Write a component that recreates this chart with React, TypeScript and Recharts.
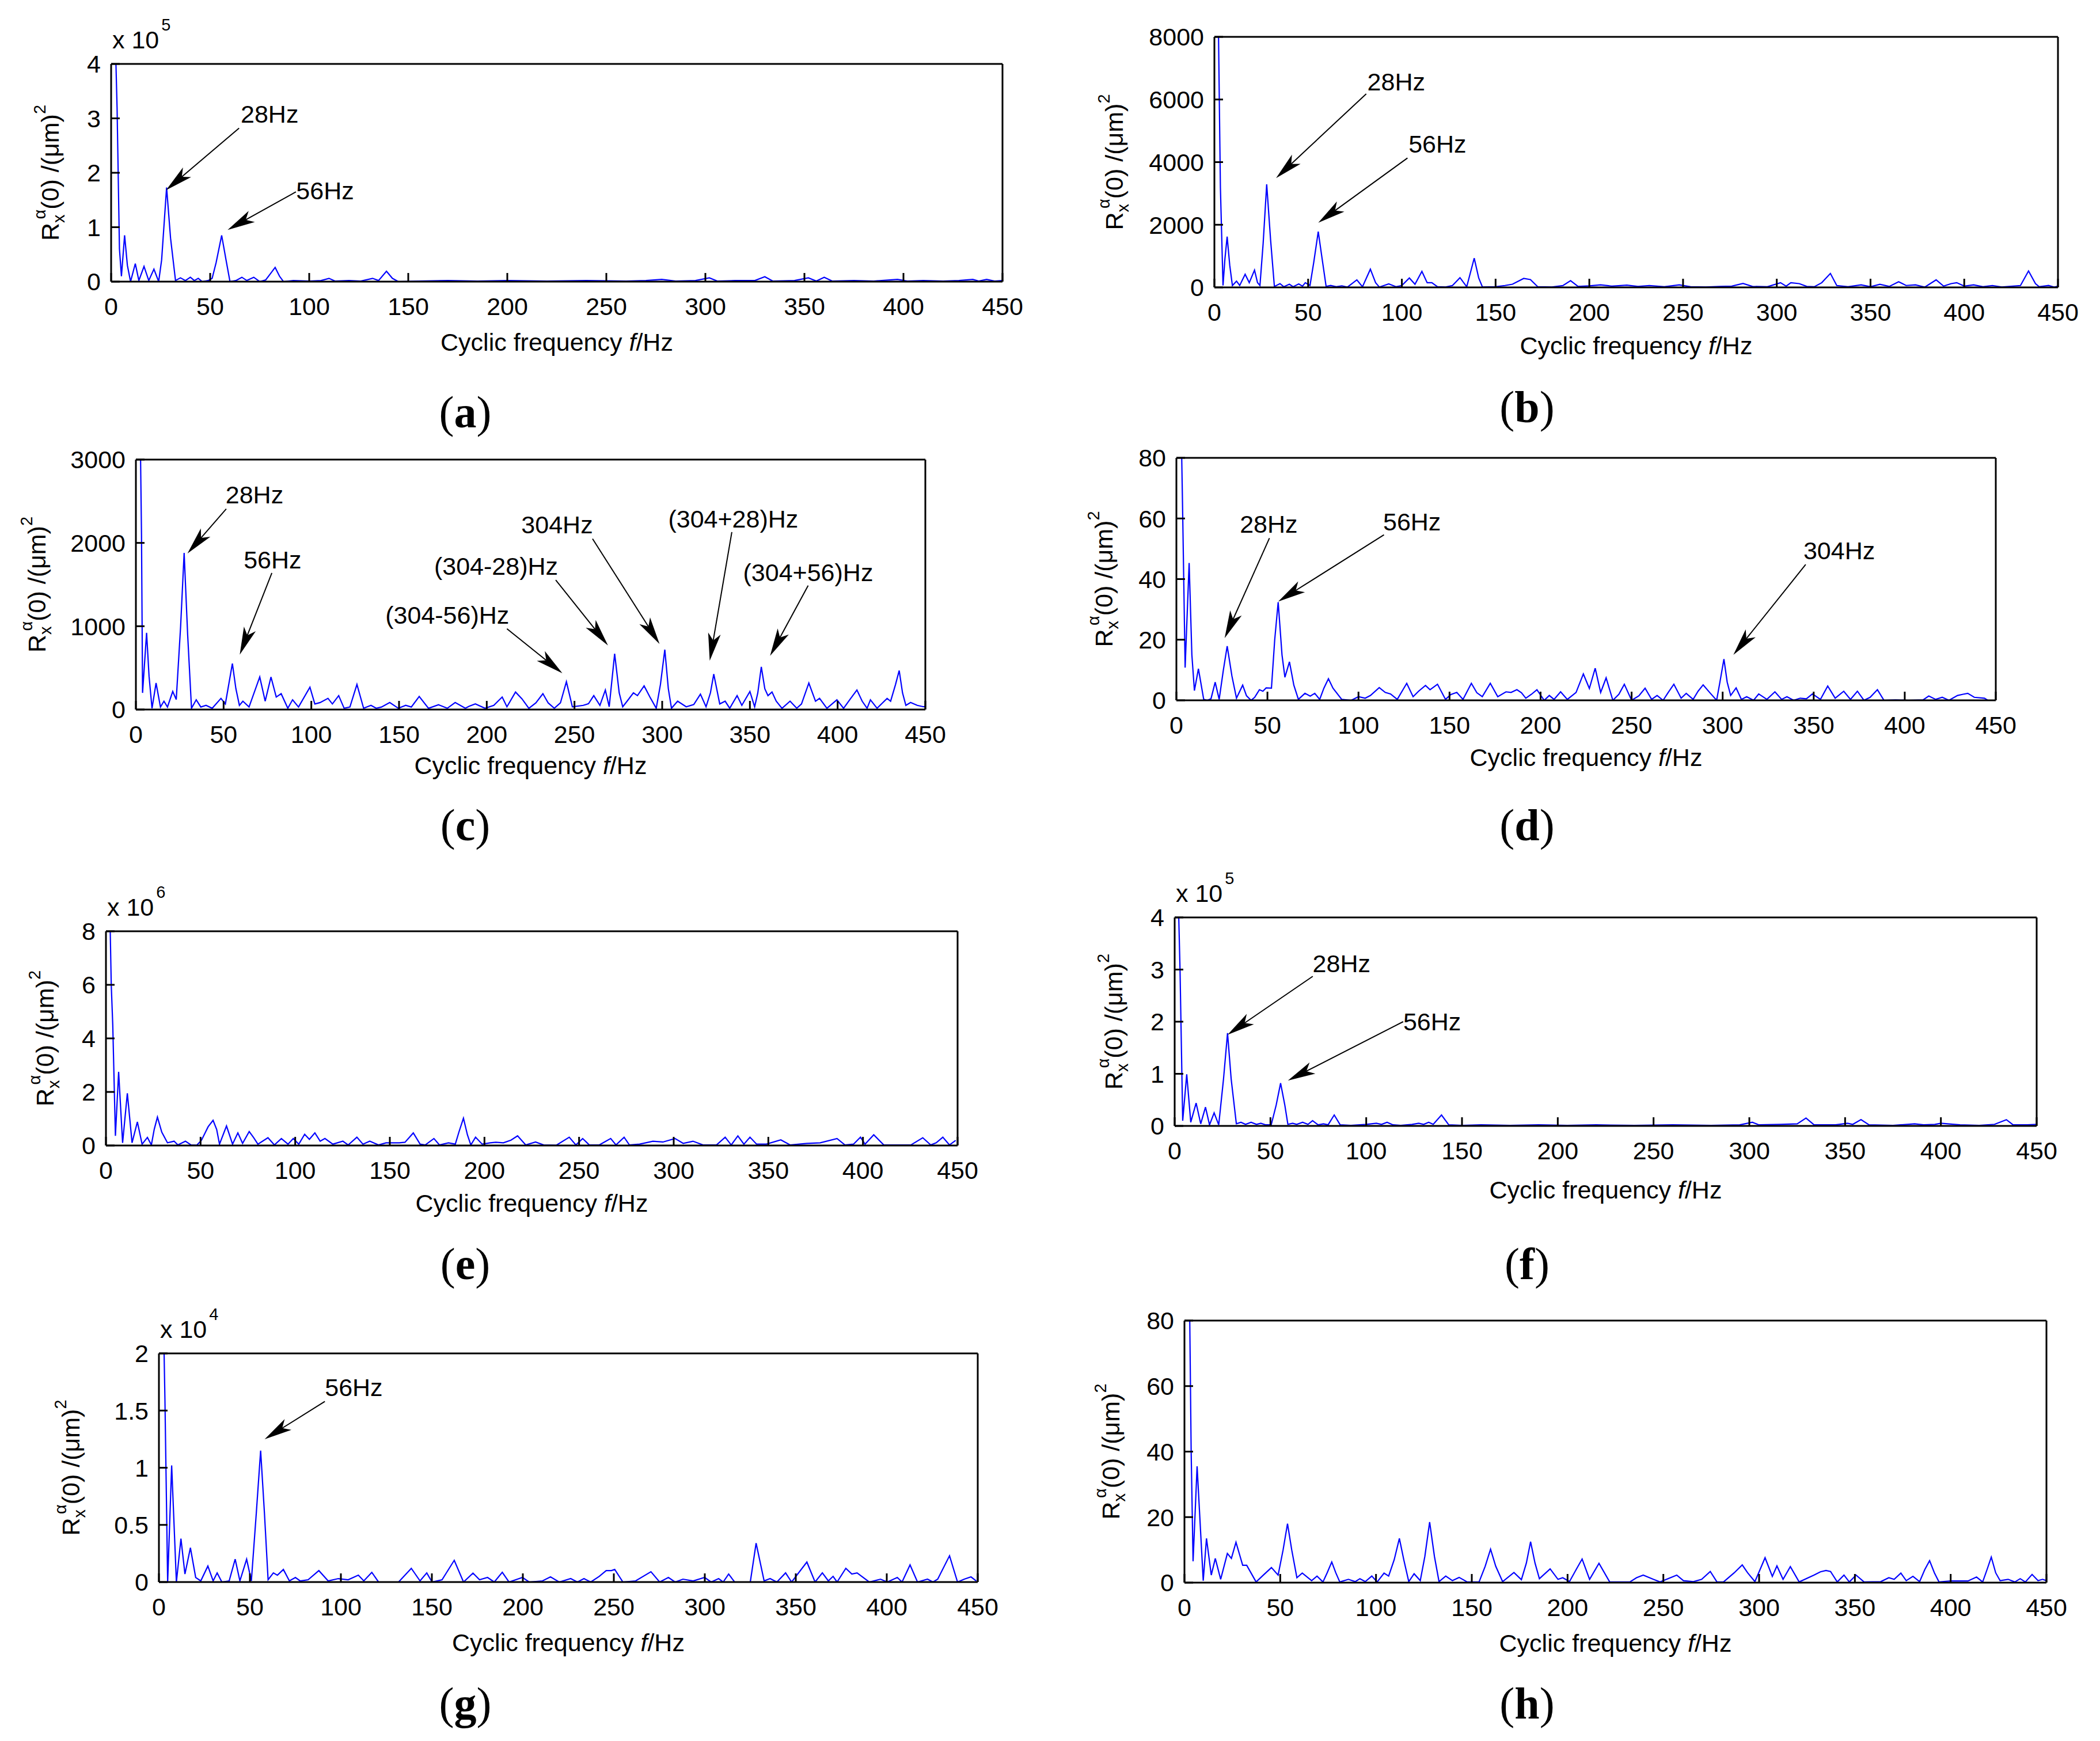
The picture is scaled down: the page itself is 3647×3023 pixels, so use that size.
import React from 'react';
import { LineChart, Line, XAxis, YAxis, ReferenceLine, ReferenceDot } from 'recharts';

type Pt = [number, number];
type Note = { text: string; tx: number; ty: number; x1: number; y1: number; x2: number; y2: number };

const FONT = '"Liberation Sans", Arial, Helvetica, sans-serif';

// cyclic frequency ticks, shared by every panel
const freqTicks = [0, 50, 100, 150, 200, 250, 300, 350, 400, 450];

// y ticks (in the units shown on each axis, multipliers drawn separately)
const yTicksA = [0, 1, 2, 3, 4];
const yTicksB = [0, 2000, 4000, 6000, 8000];
const yTicksC = [0, 1000, 2000, 3000];
const yTicksD = [0, 20, 40, 60, 80];
const yTicksE = [0, 2, 4, 6, 8];
const yTicksF = [0, 1, 2, 3, 4];
const yTicksG = [0, 0.5, 1, 1.5, 2];
const yTicksH = [0, 20, 40, 60, 80];

// spectra: [frequency Hz, value]
const specA: Pt[] = [
  [2, 4.6], [3, 3.2], [4.2, 0.6], [5.2, 0.1], [6.8, 0.85], [8.2, 0.3], [9.8, 0], [12.2, 0.33], [14, 0.02],
  [16.6, 0.28], [19, 0.02], [21.6, 0.23], [24, 0], [25.5, 0.4], [28, 1.73], [30, 0.8], [32.5, 0.02], [35, 0.07],
  [37.5, 0.02], [40, 0.08], [42, 0.02], [44, 0.06], [46, 0], [49, 0.02], [51, 0.06], [53, 0.35], [55.8, 0.85],
  [58, 0.4], [60, 0], [63, 0.02], [66, 0.08], [68.5, 0.02], [72, 0.08], [75, 0], [78, 0.03], [80.5, 0.15],
  [82.8, 0.26], [85, 0.1], [87, 0], [92, 0.02], [100, 0.01], [106, 0.02], [110, 0.06], [113, 0.01], [120, 0.02],
  [126, 0.01], [132, 0.06], [135, 0.02], [139, 0.19], [142, 0.06], [145, 0], [155, 0.01], [170, 0.02], [185, 0.01],
  [200, 0.02], [220, 0.01], [240, 0.02], [260, 0.01], [270, 0.02], [278, 0.04], [285, 0.01], [295, 0.02],
  [302, 0.07], [306, 0.01], [315, 0.02], [325, 0.02], [330, 0.09], [334, 0.01], [345, 0.02], [352, 0.07],
  [356, 0.01], [360, 0.08], [364, 0.01], [375, 0.02], [385, 0.01], [397, 0.04], [402, 0.01], [410, 0.02],
  [420, 0.01], [428, 0.02], [435, 0.04], [438, 0.01], [442, 0.04], [446, 0.01], [450, 0.02],
];

const specB: Pt[] = [
  [2, 9000], [3.2, 3200], [4.6, 60], [5.6, 900], [6.8, 1620], [8.2, 700], [9.6, 60], [11.8, 200], [13.5, 60],
  [16.4, 420], [18.6, 150], [21.4, 550], [23, 150], [24.3, 60], [26, 1400], [27.9, 3290], [30, 1500], [32, 30],
  [35, 120], [37, 20], [40, 100], [42, 20], [45, 110], [47, 40], [48.5, 150], [51, 60], [53, 800], [55.4, 1780],
  [57.5, 900], [59.6, 30], [62, 60], [65, 20], [68, 50], [71, 10], [76, 240], [79, 20], [83.2, 580], [86, 150],
  [88, 10], [93, 110], [97, 20], [100, 60], [104, 300], [107, 100], [110.7, 510], [113.5, 150], [116, 150],
  [119, 20], [123, 10], [127, 60], [131, 310], [134.6, 20], [138.6, 935], [141, 300], [143, 10], [150, 20],
  [155, 60], [159, 100], [165, 285], [168.6, 250], [172.5, 20], [180, 10], [186, 60], [190, 215], [194, 30],
  [200, 50], [206, 80], [212, 40], [220, 70], [226, 30], [232, 60], [240, 20], [248, 80], [254, 20], [262, 10],
  [270, 30], [276, 40], [282, 125], [287, 30], [295, 20], [302, 150], [305, 40], [307.5, 150], [312, 120],
  [316, 30], [320, 20], [324, 150], [328.6, 445], [332, 60], [338, 20], [345, 80], [350, 20], [355, 100],
  [360, 30], [365, 180], [369, 60], [374, 80], [379, 10], [385, 240], [389, 40], [393, 120], [396, 150],
  [400, 40], [405, 80], [410, 20], [415, 60], [420, 10], [430, 60], [434.3, 525], [438, 120], [440, 20],
  [445, 60], [448, 10], [450, 40],
];

const specC: Pt[] = [
  [2.5, 3300], [3.2, 2100], [3.8, 200], [6.1, 920], [7.5, 400], [9.2, 15], [11.5, 318], [14, 30], [16, 100],
  [18, 30], [21, 217], [23, 120], [25.5, 1000], [27.5, 1880], [29.5, 900], [31.7, 15], [34.4, 117], [37, 30],
  [40, 50], [43.5, 15], [48.5, 134], [51, 67], [55, 552], [57, 250], [59, 50], [61, 100], [64.5, 30],
  [70.6, 391], [73.7, 100], [77, 391], [80, 150], [82.8, 190], [86.6, 15], [89.3, 117], [92.7, 30], [99.2, 268],
  [102, 67], [105, 84], [109.5, 134], [112, 67], [115.6, 167], [118.7, 15], [122, 30], [126, 301], [129.8, 15],
  [134, 50], [137, 15], [140, 30], [144.7, 84], [149.6, 15], [153.8, 50], [157, 30], [161.5, 157], [166.8, 15],
  [172.5, 57], [177.5, 15], [182, 84], [187.8, 15], [190, 40], [193.5, 67], [199, 15], [204, 50], [208.8, 150],
  [211.5, 33], [216.4, 210], [220, 130], [224, 15], [228, 80], [232, 190], [235, 80], [238.5, 15], [242, 80],
  [245.4, 334], [248.8, 33], [255, 50], [258, 70], [261, 167], [264.5, 50], [267.6, 234], [269.8, 33],
  [272.9, 669], [275.5, 200], [277.5, 33], [280, 100], [283.6, 200], [285.9, 167], [289.7, 284], [293, 150],
  [296.6, 15], [299, 300], [301.5, 719], [303.5, 250], [305.3, 15], [308.8, 100], [313.7, 33], [318, 60],
  [321.8, 184], [325, 33], [327.5, 200], [329.4, 425], [332.8, 67], [335.9, 100], [338.5, 15], [342.7, 167],
  [345.4, 50], [350, 217], [352.7, 33], [354.5, 200], [356.5, 512], [358.5, 250], [360.3, 167], [362.6, 210],
  [365, 100], [368.3, 15], [372.9, 100], [376.7, 15], [379.4, 67], [383.6, 318], [387.4, 100], [389.7, 134],
  [393.9, 15], [399.6, 117], [403.4, 15], [407, 120], [411, 234], [414, 100], [416.8, 15], [418.7, 117],
  [422.5, 15], [428.2, 134], [430.2, 100], [433, 300], [435.1, 468], [437, 200], [438.9, 50], [441.6, 84],
  [445.4, 50], [449, 33], [450, 40],
];

const specD: Pt[] = [
  [2.5, 95], [3.5, 60], [4.8, 10.8], [7, 45.3], [8.5, 15], [9.9, 3.2], [12.1, 10.4], [15, 0.3], [17, 0],
  [19, 0.5], [21.3, 6], [23.5, 0.3], [25.8, 10], [27.9, 17.9], [30.5, 8], [33, 0.7], [36.4, 5], [38.5, 1.5],
  [41, 0], [43, 1], [45.6, 3.5], [47.5, 3], [49.3, 4.1], [52.2, 4], [54, 20], [55.9, 32.4], [58, 15], [59.6, 7.6],
  [62.1, 12.7], [64.5, 5], [67, 0.3], [70.6, 2.3], [73.5, 1.4], [76, 2.3], [78.7, 0.3], [81, 4], [83.5, 7.1],
  [86, 4], [90.8, 0.3], [96, 0], [100, 1.2], [103.7, 0.7], [106.6, 1.6], [111.4, 4.2], [114.7, 2.6], [117.6, 2.1],
  [121.3, 0.3], [126.5, 5.6], [130, 1.2], [133, 3], [136.8, 4.9], [139.3, 3.5], [143.4, 5.3], [147.8, 0.3],
  [150.7, 1.9], [154, 2.6], [157.4, 0.3], [162, 5.6], [165, 2.5], [168, 1.2], [172.4, 5.6], [176.5, 1.2],
  [181, 2.8], [183.8, 2.6], [187, 3.5], [189.5, 2.5], [191.9, 0.7], [195, 2], [198, 3.5], [202, 0], [204.8, 1.6],
  [207.4, 0.3], [211, 2.8], [214.7, 0.3], [219.5, 2.6], [223.5, 8.7], [226.8, 3.9], [230, 10.6], [233, 2.6],
  [236, 7.4], [239.7, 0], [243, 2], [246, 5.3], [250, 0], [254, 1.5], [257.4, 4], [261, 0.3], [264, 1.6],
  [267.3, 0], [270, 2.5], [273.2, 5.3], [277.2, 0.7], [280, 2.3], [283.8, 0.3], [286.5, 3], [289.3, 5.1],
  [293, 2.5], [296.7, 0], [298.5, 6], [300.7, 13.6], [302.5, 6], [304.4, 1.6], [307.4, 4.1], [310.3, 0.3],
  [313.2, 1.2], [317, 0], [319.8, 2.1], [324.3, 0.3], [328.7, 2.8], [332.4, 0.3], [335.3, 1.2], [339, 0],
  [342.6, 0.7], [346, 0.5], [349.3, 2.1], [353.7, 0.3], [357.7, 4.7], [361.8, 0.7], [366.5, 3], [370.2, 0.3],
  [374, 3], [377.6, 0], [381, 1], [385, 3.5], [388.6, 0], [395, 0.1], [402, 0], [410, 0.1], [413.2, 1.4],
  [417, 0.3], [420.6, 1], [424.3, 0], [429, 1.6], [432, 2], [434.6, 2.3], [438.2, 1], [443.8, 0.7], [445.6, 0],
  [450, 0],
];

const specE: Pt[] = [
  [2, 9], [2.8, 6], [3.6, 4.5], [5, 0.36], [6.7, 2.75], [8.8, 0.1], [11.3, 1.95], [13.8, 0.1], [16.6, 0.88],
  [19.1, 0.05], [21.9, 0.3], [24, 0.02], [25.5, 0.6], [27.2, 1.06], [29.5, 0.5], [32.5, 0.1], [36, 0.16],
  [38, 0.02], [42, 0.16], [45, 0.02], [48, 0.01], [50.5, 0.2], [54, 0.7], [56.6, 0.94], [58.5, 0.6], [60, 0.05],
  [63.7, 0.73], [66.9, 0.05], [69.7, 0.47], [72.2, 0.08], [75.7, 0.52], [78, 0.3], [80.3, 0.05], [85.6, 0.29],
  [89, 0.02], [92.7, 0.26], [96.2, 0.05], [99, 0.26], [101.9, 0.05], [105, 0.42], [107.5, 0.23], [110.4, 0.47],
  [113.2, 0.16], [115.7, 0.26], [119.9, 0.05], [125.2, 0.16], [128, 0.02], [132.6, 0.31], [135.8, 0.05],
  [139.4, 0.16], [144, 0.02], [148, 0.1], [155, 0.1], [158, 0.12], [162.4, 0.47], [166, 0.05], [168.7, 0.02],
  [173.3, 0.26], [176.2, 0.02], [181, 0.1], [184.6, 0.05], [186.5, 0.5], [188.9, 1.02], [191, 0.4], [192.8, 0.02],
  [195.3, 0.31], [198.8, 0.05], [203, 0.1], [206, 0.12], [210, 0.1], [214, 0.2], [217.5, 0.36], [221.8, 0.02],
  [227, 0.13], [231.3, 0.02], [238, 0.01], [244.8, 0.31], [248.3, 0.02], [251.9, 0.26], [255.4, 0.02],
  [260.7, 0.02], [266.7, 0.26], [269.5, 0.02], [273.8, 0.31], [276.6, 0.02], [282, 0.05], [289, 0.16],
  [294.3, 0.13], [300.7, 0.26], [305, 0.08], [310.2, 0.16], [315.5, 0.02], [322.6, 0.02], [327.2, 0.31],
  [330.4, 0.02], [333.9, 0.36], [337.1, 0.05], [340.3, 0.31], [343.8, 0.05], [349, 0.05], [356.6, 0.21],
  [361.5, 0.02], [370.4, 0.08], [377.4, 0.1], [386.3, 0.26], [390.5, 0.02], [395, 0.05], [398.7, 0.31],
  [401.1, 0.05], [405.7, 0.4], [411, 0.02], [420, 0.02], [425.3, 0.02], [431.6, 0.29], [435.8, 0.02],
  [438.7, 0.1], [442.2, 0.31], [445.7, 0.02], [449, 0.19],
];

const specF: Pt[] = [
  [2, 4.2], [2.8, 3], [4.2, 0.1], [6.3, 0.99], [8.4, 0.07], [11.2, 0.44], [13.6, 0.04], [16.1, 0.36], [18.2, 0.02],
  [20.6, 0.25], [23, 0.02], [25.5, 0.9], [27.6, 1.78], [29.5, 0.9], [32.2, 0.04], [34.6, 0.07], [37, 0.03],
  [39.9, 0.07], [42.7, 0.03], [45, 0.05], [47.6, 0.02], [50.4, 0.02], [53, 0.4], [55.3, 0.82], [57.5, 0.4],
  [59.1, 0.03], [61.6, 0.05], [63.7, 0.03], [66.8, 0.07], [69.6, 0.03], [72, 0.1], [74.9, 0.02], [77.7, 0.04],
  [80.1, 0.02], [83.3, 0.21], [86.4, 0.02], [92, 0.01], [100, 0.03], [105.3, 0.05], [108, 0.03], [110.9, 0.07],
  [114, 0.02], [118, 0.01], [123.9, 0.03], [127.4, 0.05], [130, 0.03], [132.6, 0.07], [135, 0.03], [139.3, 0.21],
  [143.1, 0.02], [150, 0.01], [160, 0.02], [175, 0.01], [190, 0.02], [205, 0.01], [220, 0.02], [240, 0.01],
  [260, 0.02], [280, 0.01], [295, 0.02], [301.6, 0.07], [305, 0.02], [316, 0.03], [325, 0.04], [329.6, 0.15],
  [333.8, 0.02], [345, 0.02], [351.3, 0.05], [354, 0.03], [358.3, 0.12], [362.5, 0.02], [375, 0.01],
  [386.3, 0.04], [391, 0.02], [396.8, 0.03], [400, 0.05], [410, 0.02], [420, 0.01], [428, 0.03], [434.2, 0.12],
  [437.7, 0.02], [445, 0.02], [450, 0.03],
];

const specG: Pt[] = [
  [2.5, 2.3], [3.3, 1.6], [4.8, 0], [7, 1.02], [9.6, 0], [12.1, 0.38], [14.3, 0.07], [17.3, 0.3], [20.2, 0.04],
  [23, 0.01], [26.9, 0.14], [29.8, 0.01], [32, 0.08], [34.6, 0], [38.6, 0.01], [41.9, 0.2], [44.5, 0.01],
  [48.2, 0.2], [50.8, 0.01], [53.5, 0.6], [55.9, 1.15], [58, 0.6], [60, 0.02], [62.9, 0.08], [65.1, 0.06],
  [68.4, 0.11], [71.7, 0.01], [75, 0.04], [77.6, 0.01], [82, 0.02], [87.9, 0.1], [93, 0.01], [98.6, 0.03],
  [104, 0.02], [109.6, 0.06], [112.6, 0.01], [117, 0.085], [120.7, 0], [131.7, 0], [138.7, 0.12], [143.5, 0.01],
  [147.2, 0.08], [150.1, 0], [155.6, 0.02], [162.3, 0.19], [167.4, 0], [172.6, 0.078], [176.2, 0.02],
  [180.6, 0.04], [184.3, 0], [188.7, 0.085], [192.4, 0], [199.8, 0.04], [203.5, 0], [210.8, 0.01],
  [215.2, 0.045], [220, 0], [226.3, 0.03], [230, 0], [233.6, 0.03], [237.3, 0], [242, 0.05], [245.8, 0.1],
  [248.7, 0.1], [250.5, 0.11], [255, 0], [262, 0.01], [270.4, 0.09], [275.2, 0], [280, 0.04], [283.7, 0],
  [288, 0.025], [293.6, 0.01], [299.9, 0.04], [303.5, 0], [307.6, 0.03], [310.1, 0], [313.1, 0.07], [316.4, 0],
  [325, 0], [328.2, 0.34], [332.6, 0.01], [335.9, 0.03], [339.6, 0], [344.4, 0.08], [347.7, 0], [356.1, 0.175],
  [360.6, 0], [364.6, 0.08], [367.9, 0.01], [370.5, 0.05], [372.7, 0], [377.5, 0.12], [380.8, 0.07],
  [383.7, 0.08], [390.4, 0], [396.6, 0.025], [400.3, 0], [405.8, 0.04], [408.4, 0], [412.8, 0.15], [416.9, 0],
  [422.4, 0.025], [425.4, 0], [428, 0.025], [434.5, 0.23], [438.9, 0], [442.6, 0.025], [446.3, 0.045],
  [449.2, 0.01],
];

const specH: Pt[] = [
  [2.5, 95], [3.5, 40], [4.5, 6.5], [6.6, 35.5], [9.8, 0.6], [11.5, 13.5], [14, 2.3], [16.1, 7.4], [18.9, 1],
  [22.4, 8.9], [24.5, 7.4], [26.9, 12.3], [30.4, 5.3], [32.5, 5.3], [35, 2.7], [37.4, 0.2], [41.2, 2.3],
  [45.4, 4.6], [48.9, 2.3], [51.5, 10], [53.8, 18], [56, 10], [58.7, 1.5], [61.5, 2.9], [66.4, 0.6], [69.2, 2],
  [72.3, 0.2], [74.5, 3], [76.9, 6.3], [79, 3], [81.1, 0.2], [85.6, 1], [89.2, 0.3], [91.6, 1.2], [94.4, 0.3],
  [97.8, 2], [100.6, 0.2], [104.2, 2.9], [106.6, 2], [109.5, 7], [112.2, 13.5], [114.5, 7], [117.1, 0.3],
  [119.9, 2.7], [123.1, 0.6], [125.5, 8], [128, 18.5], [130.5, 8], [132.9, 0.3], [136.4, 2], [139.9, 0.6],
  [143.4, 1.6], [147.6, 0.2], [153.8, 0.2], [157, 5], [159.8, 10.2], [162.5, 5], [166.1, 0.3], [172, 3.1],
  [175.9, 0.9], [178.5, 6], [180.7, 12.5], [183, 6], [185.3, 1.2], [190.9, 4.2], [195, 1], [197.5, 1.5],
  [201, 0.3], [204.5, 4], [207.6, 7.2], [211.5, 1], [216.4, 5.9], [222, 0.2], [232.5, 0.2], [236, 1.5],
  [239.5, 2.3], [244.8, 1], [248.3, 0.2], [257, 2.3], [260.5, 0.6], [265.7, 0.3], [270, 1], [274.5, 3.4],
  [278, 0.2], [281.4, 0.2], [287, 3], [291.2, 5.4], [294, 3], [297.8, 0.3], [300.5, 4], [303.1, 7.6],
  [306.9, 1.9], [309.3, 5.1], [312.5, 1], [316.3, 4.9], [320.9, 0.2], [328.6, 2.3], [332, 3.3], [334.9, 3.7],
  [337.3, 3.4], [340.8, 0.2], [344.3, 2.3], [347.1, 0.2], [350.6, 2.3], [354.8, 0.2], [363.5, 0.3],
  [367.7, 1.5], [370.5, 1], [374, 2.9], [376.8, 0.6], [380.3, 1.9], [383.8, 0.3], [386.5, 4], [389, 6.7],
  [391.5, 3], [393.9, 0.2], [400, 0.5], [409, 0.5], [413.5, 1.7], [416.7, 0.2], [419, 4], [421.2, 7.8],
  [423.5, 3], [425.8, 0.6], [430, 1], [433.5, 0.2], [436.3, 1.2], [439, 0.2], [442.5, 2.5], [445.6, 0.6],
  [448, 1], [450, 0.6],
];

// arrow annotations: text centre (tx, ty), arrow from (x1, y1) to tip (x2, y2), all in data units
const notesA: Note[] = [
  { text: '28Hz', tx: 80, ty: 3.08, x1: 64.6, y1: 2.82, x2: 27.7, y2: 1.68 },
  { text: '56Hz', tx: 108, ty: 1.67, x1: 93.3, y1: 1.65, x2: 58.8, y2: 0.95 },
];
const notesB: Note[] = [
  { text: '28Hz', tx: 97, ty: 6560, x1: 81, y1: 6180, x2: 32.9, y2: 3490 },
  { text: '56Hz', tx: 119, ty: 4575, x1: 103, y1: 4130, x2: 55.4, y2: 2065 },
];
const notesC: Note[] = [
  { text: '28Hz', tx: 67.6, ty: 2575, x1: 51.5, y1: 2408, x2: 29.4, y2: 1873 },
  { text: '56Hz', tx: 77.9, ty: 1799, x1: 77.5, y1: 1639, x2: 59.2, y2: 659 },
  { text: '(304-56)Hz', tx: 177.5, ty: 1137, x1: 211.5, y1: 970, x2: 243.1, y2: 435 },
  { text: '(304-28)Hz', tx: 205.3, ty: 1722, x1: 239.3, y1: 1555, x2: 269.1, y2: 769 },
  { text: '304Hz', tx: 240.1, ty: 2217, x1: 260.3, y1: 2050, x2: 298.5, y2: 786 },
  { text: '(304+28)Hz', tx: 340.5, ty: 2291, x1: 339.7, y1: 2130, x2: 327.1, y2: 585 },
  { text: '(304+56)Hz', tx: 383.2, ty: 1645, x1: 383.2, y1: 1488, x2: 361.5, y2: 645 },
];
const notesD: Note[] = [
  { text: '28Hz', tx: 50.7, ty: 58.1, x1: 51.1, y1: 53.5, x2: 26.5, y2: 20.5 },
  { text: '56Hz', tx: 129.4, ty: 59, x1: 114, y1: 54.6, x2: 55.9, y2: 32.6 },
  { text: '304Hz', tx: 364, ty: 49.4, x1: 345.6, y1: 44.8, x2: 305.9, y2: 15 },
];
const notesF: Note[] = [
  { text: '28Hz', tx: 87.1, ty: 3.12, x1: 72.1, y1: 2.87, x2: 27.6, y2: 1.75 },
  { text: '56Hz', tx: 134.4, ty: 2.0, x1: 119.3, y1: 2.0, x2: 59.1, y2: 0.87 },
];
const notesG: Note[] = [
  { text: '56Hz', tx: 107.1, ty: 1.705, x1: 91.2, y1: 1.58, x2: 58.1, y2: 1.25 },
];

type PanelSpec = {
  data: Pt[];
  yTicks: number[];
  exp?: number;
  notes: Note[];
  left: number;
  top: number;
  right: number;
  bottom: number;
  titleOffset: number;
  xTitleGap: number;
};

const panels: PanelSpec[] = [
  { data: specA, yTicks: yTicksA, exp: 5, notes: notesA, left: 193, top: 111, right: 1741, bottom: 489, titleOffset: 106, xTitleGap: 105 },
  { data: specB, yTicks: yTicksB, notes: notesB, left: 2109, top: 64, right: 3574, bottom: 499, titleOffset: 174, xTitleGap: 101 },
  { data: specC, yTicks: yTicksC, notes: notesC, left: 236, top: 798, right: 1607, bottom: 1232, titleOffset: 172, xTitleGap: 97 },
  { data: specD, yTicks: yTicksD, notes: notesD, left: 2043, top: 795, right: 3466, bottom: 1216, titleOffset: 126, xTitleGap: 99 },
  { data: specE, yTicks: yTicksE, exp: 6, notes: [], left: 184, top: 1617, right: 1663, bottom: 1989, titleOffset: 106, xTitleGap: 100 },
  { data: specF, yTicks: yTicksF, exp: 5, notes: notesF, left: 2040, top: 1593, right: 3537, bottom: 1955, titleOffset: 106, xTitleGap: 111 },
  { data: specG, yTicks: yTicksG, exp: 4, notes: notesG, left: 276, top: 2350, right: 1698, bottom: 2747, titleOffset: 153, xTitleGap: 105 },
  { data: specH, yTicks: yTicksH, notes: [], left: 2057, top: 2293, right: 3554, bottom: 2748, titleOffset: 128, xTitleGap: 105 },
];

const captions = [
  { letter: 'a', x: 808, y: 716 }, { letter: 'b', x: 2652, y: 707 },
  { letter: 'c', x: 808, y: 1433 }, { letter: 'd', x: 2652, y: 1433 },
  { letter: 'e', x: 808, y: 2195 }, { letter: 'f', x: 2652, y: 2195 },
  { letter: 'g', x: 808, y: 2958 }, { letter: 'h', x: 2652, y: 2958 },
];

const Y_W = 230;
const TOP_M = 100;
const RIGHT_M = 50;
const X_H = 170;
const TICK = 15;
const FS = 43;
const SUB = 29;

const tickStyle = { fill: '#000', fontSize: FS, fontFamily: FONT };

function Arrow(props: any) {
  const { x1, y1, x2, y2 } = props;
  const dx = x2 - x1;
  const dy = y2 - y1;
  const len = Math.hypot(dx, dy) || 1;
  const ux = dx / len;
  const uy = dy / len;
  const nx = -uy;
  const ny = ux;
  const L = 48;
  const W = 11;
  const N = 36;
  const bx = x2 - ux * L;
  const by = y2 - uy * L;
  const mx = x2 - ux * N;
  const my = y2 - uy * N;
  const pts = [
    [x2, y2],
    [bx + nx * W, by + ny * W],
    [mx, my],
    [bx - nx * W, by - ny * W],
  ]
    .map((p) => p.join(','))
    .join(' ');
  return (
    <g>
      <line x1={x1} y1={y1} x2={mx} y2={my} stroke="#000" strokeWidth={2} />
      <polygon points={pts} fill="#000" />
    </g>
  );
}

function YTitle({ cx, cy }: { cx: number; cy: number }) {
  return (
    <text x={cx} y={cy + 15} transform={`rotate(-90 ${cx} ${cy})`} textAnchor="middle" fontFamily={FONT} fontSize={FS} fill="#000">
      R
      <tspan fontSize={SUB} dy={10}>x</tspan>
      <tspan fontSize={SUB} dx={-8} dy={-33}>α</tspan>
      <tspan dy={23}>(0) /(μm)</tspan>
      <tspan fontSize={SUB} dy={-23}>2</tspan>
    </text>
  );
}

function Panel({ p }: { p: PanelSpec }) {
  const plotW = p.right - p.left;
  const plotH = p.bottom - p.top;
  const plotTop = TOP_M + 1;
  const yMax = p.yTicks[p.yTicks.length - 1];
  const rows = p.data.map(([f, v]) => ({ f, v }));

  const yLabel = () => (
    <g>
      <YTitle cx={Y_W - p.titleOffset} cy={plotTop + plotH / 2} />
      {p.exp !== undefined && (
        <text x={Y_W + 2} y={plotTop - 27} fontFamily={FONT} fontSize={FS} fill="#000">
          x 10
          <tspan fontSize={SUB} dx={4} dy={-31}>{p.exp}</tspan>
        </text>
      )}
    </g>
  );

  const xLabel = () => (
    <text x={Y_W + plotW / 2} y={plotTop + plotH + p.xTitleGap + 15} textAnchor="middle" fontFamily={FONT} fontSize={FS} fill="#000">
      Cyclic frequency <tspan fontStyle="italic">f</tspan>/Hz
    </text>
  );

  return (
    <div style={{ position: 'absolute', left: p.left - Y_W, top: p.top - plotTop }}>
      <LineChart
        width={Y_W + plotW + 1 + RIGHT_M}
        height={plotTop + plotH + X_H}
        data={rows}
        margin={{ top: TOP_M, right: RIGHT_M, bottom: 0, left: 0 }}
      >
        <XAxis
          dataKey="f"
          type="number"
          domain={[0, 450]}
          ticks={freqTicks}
          interval={0}
          height={X_H}
          tickSize={-TICK}
          tickMargin={TICK + 27}
          stroke="#000"
          strokeWidth={3}
          tick={tickStyle}
          label={xLabel}
        />
        <XAxis
          xAxisId="t"
          orientation="top"
          dataKey="f"
          type="number"
          domain={[0, 450]}
          ticks={freqTicks}
          interval={0}
          height={1}
          tickSize={-TICK}
          stroke="#000"
          strokeWidth={3}
          tick={false}
        />
        <YAxis
          type="number"
          domain={[0, yMax]}
          ticks={p.yTicks}
          interval={0}
          allowDataOverflow
          width={Y_W}
          tickSize={-TICK}
          tickMargin={TICK + 18}
          stroke="#000"
          strokeWidth={3}
          tick={tickStyle}
          label={yLabel}
        />
        <YAxis
          yAxisId="r"
          orientation="right"
          type="number"
          domain={[0, yMax]}
          ticks={p.yTicks}
          interval={0}
          allowDataOverflow
          width={1}
          tickSize={-TICK}
          stroke="#000"
          strokeWidth={3}
          tick={false}
        />
        <Line dataKey="v" type="linear" stroke="#0000ff" strokeWidth={2.2} dot={false} activeDot={false} isAnimationActive={false} />
        {p.notes.map((n, i) => (
          <ReferenceLine
            key={`l${i}`}
            segment={[{ x: n.x1, y: n.y1 }, { x: n.x2, y: n.y2 }]}
            shape={(sp: any) => <Arrow {...sp} />}
          />
        ))}
        {p.notes.map((n, i) => (
          <ReferenceDot
            key={`t${i}`}
            x={n.tx}
            y={n.ty}
            r={0}
            shape={(dp: any) => (
              <text x={dp.cx} y={dp.cy + 15} textAnchor="middle" fontFamily={FONT} fontSize={FS} fill="#000">
                {n.text}
              </text>
            )}
          />
        ))}
      </LineChart>
    </div>
  );
}

export default function App() {
  return (
    <div style={{ position: 'absolute', left: 0, top: 0, width: 3647, height: 3023, background: '#fff', overflow: 'hidden' }}>
      {panels.map((p, i) => (
        <Panel key={i} p={p} />
      ))}
      {captions.map((c) => (
        <div
          key={c.letter}
          style={{
            position: 'absolute',
            left: c.x,
            top: c.y,
            transform: 'translate(-50%, -50%)',
            fontFamily: '"Liberation Serif", "Times New Roman", serif',
            fontSize: 78,
            lineHeight: 1,
            color: '#000',
            whiteSpace: 'nowrap',
          }}
        >
          (<b>{c.letter}</b>)
        </div>
      ))}
    </div>
  );
}
